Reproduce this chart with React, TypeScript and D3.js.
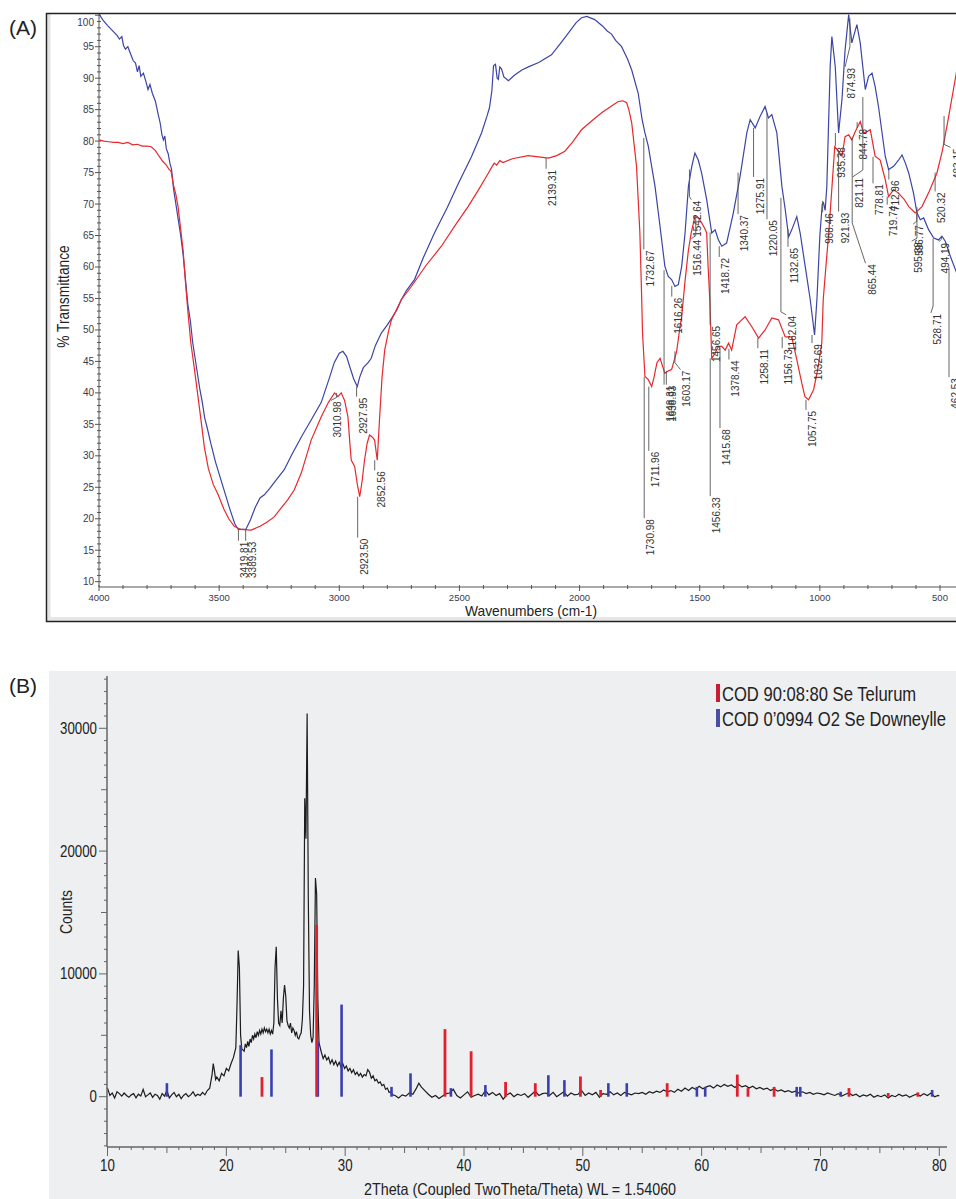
import React from 'react';
import * as d3 from 'd3';

// ---------- Panel A: FTIR ----------
const ftirBlue: [number, number][] = [
  [4000, 100.2], [3985, 99.3], [3965, 98.4], [3945, 97.6], [3925, 96.8], [3915, 96.2], [3905, 96.6], [3898, 95.2],
  [3890, 94.6], [3880, 95.0], [3870, 94.0], [3858, 92.8], [3848, 92.4], [3840, 91.0], [3833, 92.0], [3826, 90.3],
  [3815, 90.8], [3805, 89.5], [3796, 88.2], [3788, 89.0], [3778, 87.6], [3765, 86.3], [3755, 84.5], [3745, 82.8],
  [3738, 81.0], [3732, 80.2], [3726, 80.8], [3720, 78.8], [3712, 78.0], [3705, 76.5], [3698, 75.5], [3690, 72.5],
  [3680, 70.0], [3670, 67.5], [3660, 65.0], [3650, 62.0], [3640, 58.0], [3630, 54.0], [3620, 51.5], [3610, 48.0],
  [3600, 45.5], [3590, 43.0], [3580, 40.5], [3570, 38.5], [3560, 36.0], [3550, 34.5], [3535, 32.0], [3515, 29.0],
  [3495, 26.5], [3475, 24.0], [3455, 21.5], [3435, 19.2], [3420, 18.3], [3400, 18.3], [3389, 18.3], [3370, 19.8],
  [3350, 21.8], [3330, 23.3], [3312, 23.8], [3290, 24.8], [3260, 26.3], [3229, 27.8], [3200, 30.0], [3158, 33.0],
  [3120, 35.5], [3075, 38.5], [3040, 42.5], [3021, 44.8], [3000, 46.3], [2985, 46.6], [2970, 45.8], [2955, 44.0],
  [2940, 42.2], [2925, 41.0], [2915, 42.5], [2900, 44.0], [2880, 44.8], [2867, 45.5], [2850, 47.5], [2825, 49.5],
  [2800, 50.8], [2783, 51.8], [2760, 53.2], [2742, 54.8], [2720, 56.3], [2687, 58.0], [2650, 61.5], [2604, 65.4],
  [2550, 69.5], [2504, 73.3], [2450, 77.5], [2408, 81.3], [2385, 84.0], [2375, 85.3], [2365, 88.0], [2358, 92.0],
  [2350, 92.2], [2343, 90.0], [2338, 89.8], [2332, 91.8], [2325, 91.5], [2315, 90.2], [2296, 89.6], [2270, 90.5],
  [2240, 91.3], [2213, 91.8], [2170, 92.5], [2117, 93.7], [2080, 95.5], [2046, 97.2], [2015, 98.8], [1992, 99.6],
  [1970, 99.8], [1950, 99.5], [1937, 99.3], [1905, 98.3], [1885, 97.5], [1867, 97.0], [1850, 96.0], [1825, 95.0],
  [1800, 93.0], [1783, 91.3], [1756, 87.6], [1740, 83.5], [1728, 81.3], [1714, 79.2], [1700, 76.0], [1686, 72.8],
  [1665, 66.4], [1645, 60.1], [1631, 58.5], [1617, 58.0], [1603, 56.9], [1589, 57.2], [1575, 60.1], [1561, 65.4],
  [1547, 72.8], [1533, 76.0], [1520, 78.1], [1506, 77.0], [1492, 74.9], [1471, 70.7], [1450, 65.4], [1436, 65.9],
  [1422, 64.3], [1408, 63.3], [1388, 63.8], [1360, 68.6], [1332, 74.4], [1304, 81.3], [1290, 83.4], [1269, 82.1],
  [1249, 83.9], [1228, 85.5], [1214, 83.7], [1200, 84.2], [1179, 81.3], [1158, 72.8], [1144, 69.1], [1130, 64.8],
  [1117, 65.9], [1096, 68.0], [1082, 65.4], [1061, 60.1], [1040, 54.8], [1022, 49.2], [1012, 55.0], [1000, 65.0],
  [990, 70.0], [985, 70.2], [978, 69.0], [971, 72.8], [957, 91.9], [950, 96.6], [936, 91.9], [922, 81.3],
  [908, 86.6], [895, 94.5], [880, 100.1], [867, 95.6], [846, 98.5], [832, 95.6], [811, 88.2], [797, 90.3],
  [783, 90.8], [770, 88.7], [756, 85.5], [728, 77.6], [714, 75.5], [693, 76.0], [672, 77.0], [658, 77.8],
  [644, 76.5], [630, 74.9], [610, 71.7], [596, 68.6], [582, 67.5], [568, 67.8], [547, 65.9], [526, 64.6],
  [506, 64.3], [492, 64.9], [478, 64.1], [457, 61.7], [425, 58.5],
];

const ftirRed: [number, number][] = [
  [4000, 80.2], [3980, 80.0], [3960, 79.9], [3940, 79.8], [3920, 79.8], [3900, 79.6], [3880, 79.8], [3860, 79.4],
  [3840, 79.5], [3820, 79.2], [3800, 79.2], [3783, 79.1], [3765, 78.5], [3750, 77.6], [3735, 76.8], [3720, 76.2],
  [3710, 75.6], [3700, 75.2], [3690, 73.0], [3680, 71.5], [3671, 69.6], [3660, 66.0], [3650, 62.7], [3640, 57.5],
  [3629, 52.5], [3618, 48.0], [3604, 44.1], [3590, 40.0], [3575, 35.5], [3562, 31.5], [3545, 28.0], [3525, 25.5],
  [3504, 23.8], [3480, 21.5], [3460, 20.0], [3437, 18.8], [3410, 18.3], [3367, 18.2], [3330, 18.8], [3300, 19.5],
  [3271, 20.3], [3240, 21.8], [3215, 23.0], [3187, 24.6], [3158, 27.3], [3117, 32.5], [3075, 36.2], [3045, 38.5],
  [3020, 40.0], [3006, 39.4], [2992, 40.0], [2978, 38.8], [2964, 36.2], [2955, 31.5], [2950, 29.3], [2936, 28.3],
  [2925, 25.5], [2915, 23.5], [2905, 26.0], [2895, 29.3], [2884, 32.0], [2874, 33.3], [2863, 33.0], [2853, 32.5],
  [2842, 29.3], [2832, 36.2], [2822, 42.5], [2811, 46.8], [2795, 49.8], [2783, 51.6], [2742, 54.8], [2700, 56.9],
  [2640, 60.2], [2575, 63.3], [2520, 66.5], [2464, 69.6], [2420, 72.3], [2380, 74.9], [2365, 75.9], [2355, 76.5],
  [2345, 76.2], [2332, 76.9], [2318, 76.6], [2280, 77.2], [2214, 77.7], [2170, 77.5], [2130, 77.3], [2095, 77.7],
  [2061, 78.4], [2030, 79.8], [1992, 81.8], [1950, 83.2], [1908, 84.5], [1870, 85.5], [1839, 86.3], [1820, 86.4],
  [1804, 86.1], [1795, 85.0], [1783, 82.9], [1763, 76.0], [1749, 65.4], [1742, 55.8], [1738, 49.5], [1728, 42.6],
  [1714, 42.1], [1700, 41.0], [1690, 42.5], [1678, 44.8], [1665, 45.5], [1655, 44.3], [1645, 43.1], [1630, 43.5],
  [1617, 43.7], [1605, 45.3], [1596, 46.6], [1582, 50.5], [1575, 52.1], [1561, 57.8], [1547, 62.7], [1535, 65.5],
  [1520, 68.0], [1506, 67.8], [1492, 67.0], [1480, 66.2], [1471, 65.4], [1465, 60.0], [1458, 54.8], [1450, 45.5],
  [1436, 46.3], [1422, 47.4], [1408, 47.4], [1394, 46.8], [1380, 47.9], [1367, 46.8], [1346, 50.8], [1325, 51.6],
  [1311, 52.1], [1283, 50.5], [1255, 48.7], [1228, 50.0], [1200, 51.9], [1172, 51.6], [1144, 48.9], [1117, 48.9],
  [1096, 45.3], [1075, 41.5], [1062, 39.4], [1047, 38.9], [1026, 40.5], [1010, 43.5], [992, 47.9], [986, 54.8],
  [975, 60.0], [963, 65.4], [950, 72.5], [938, 79.1], [922, 78.4], [908, 77.6], [895, 80.7], [880, 81.0],
  [867, 80.2], [853, 81.5], [832, 83.1], [818, 81.3], [804, 81.5], [790, 81.8], [770, 77.6], [749, 77.0],
  [728, 73.9], [714, 71.2], [693, 72.3], [672, 71.7], [650, 70.8], [630, 69.6], [603, 68.6], [575, 69.6],
  [545, 72.0], [513, 74.9], [490, 78.5], [464, 83.9], [445, 88.0], [425, 92.4],
];

const ftirPeakLabels = [
  { label: '3419.81', wn: 3419.81, t0: 18.3, t1: 16.5 },
  { label: '3389.53', wn: 3389.53, t0: 18.3, t1: 16.5 },
  { label: '3010.98', wn: 3010.98, t0: 40.0, t1: 38.8, lwn: 3035 },
  { label: '2927.95', wn: 2927.95, t0: 41.0, t1: 39.4 },
  { label: '2923.50', wn: 2923.5, t0: 23.5, t1: 17.0 },
  { label: '2852.56', wn: 2852.56, t0: 29.3, t1: 27.7 },
  { label: '2139.31', wn: 2139.31, t0: 77.3, t1: 75.6 },
  { label: '1732.67', wn: 1732.67, t0: 80.5, t1: 62.8 },
  { label: '1730.98', wn: 1730.98, t0: 42.5, t1: 20.1 },
  { label: '1711.96', wn: 1711.96, t0: 41.0, t1: 30.8 },
  { label: '1648.31', wn: 1648.31, t0: 59.5, t1: 41.3 },
  { label: '1638.93', wn: 1638.93, t0: 43.5, t1: 41.3 },
  { label: '1616.26', wn: 1616.26, t0: 57.0, t1: 55.3 },
  { label: '1603.17', wn: 1603.17, t0: 46.6, tm: 44.8, t1: 43.7, lwn: 1580 },
  { label: '1542.64', wn: 1542.64, t0: 75.5, t1: 70.7, lwn: 1535 },
  { label: '1516.44', wn: 1516.44, t0: 68.0, t1: 64.5, lwn: 1535 },
  { label: '1456.65', wn: 1456.65, t0: 65.5, t1: 50.8 },
  { label: '1456.33', wn: 1456.33, t0: 45.5, t1: 23.6 },
  { label: '1418.72', wn: 1418.72, t0: 63.3, t1: 61.6 },
  { label: '1415.68', wn: 1415.68, t0: 47.2, t1: 34.4 },
  { label: '1378.44', wn: 1378.44, t0: 47.0, t1: 45.3 },
  { label: '1340.37', wn: 1340.37, t0: 75.0, t1: 68.4 },
  { label: '1275.91', wn: 1275.91, t0: 82.1, t1: 74.3 },
  { label: '1258.11', wn: 1258.11, t0: 48.7, t1: 47.1 },
  { label: '1220.05', wn: 1220.05, t0: 84.5, t1: 67.6 },
  { label: '1162.04', wn: 1162.04, t0: 71.0, t1: 52.4, lwn: 1140 },
  { label: '1156.73', wn: 1156.73, t0: 48.9, t1: 47.1 },
  { label: '1132.65', wn: 1132.65, t0: 66.0, t1: 63.2 },
  { label: '1057.75', wn: 1057.75, t0: 38.9, t1: 37.3 },
  { label: '1032.69', wn: 1032.69, t0: 49.2, t1: 47.9 },
  { label: '988.46', wn: 988.46, t0: 70.5, t1: 68.7 },
  { label: '935.38', wn: 935.38, t0: 81.3, t1: 79.2 },
  { label: '921.93', wn: 921.93, t0: 78.5, t1: 68.8 },
  { label: '874.93', wn: 874.93, t0: 99.5, tm: 95.0, t1: 91.8, lwn: 895 },
  { label: '865.44', wn: 865.44, t0: 80.5, tm: 67.0, t1: 60.6, lwn: 810 },
  { label: '844.78', wn: 844.78, t0: 83.0, t1: 82.1 },
  { label: '821.11', wn: 821.11, t0: 87.0, tm: 75.4, t1: 74.3, lwn: 864 },
  { label: '778.81', wn: 778.81, t0: 77.5, t1: 73.3 },
  { label: '719.74', wn: 719.74, t0: 71.2, t1: 69.9 },
  { label: '712.96', wn: 712.96, t0: 75.5, t1: 73.9 },
  { label: '596.77', wn: 596.77, t0: 68.5, t1: 66.8, lwn: 612 },
  { label: '595.88', wn: 595.88, t0: 69.5, t1: 64.1, lwn: 618 },
  { label: '528.71', wn: 528.71, t0: 64.5, tm: 53.8, t1: 52.7, lwn: 538 },
  { label: '520.32', wn: 520.32, t0: 75.0, t1: 72.0 },
  { label: '494.19', wn: 494.19, t0: 64.8, t1: 64.0, lwn: 505 },
  { label: '483.15', wn: 483.15, t0: 84.0, t1: 79.0, lwn: 456 },
  { label: '462.53', wn: 462.53, t0: 60.0, t1: 42.5 },
];

const ftirYTickValues = [10, 15, 20, 25, 30, 35, 40, 45, 50, 55, 60, 65, 70, 75, 80, 85, 90, 95, 100];
const ftirXTickValues = [4000, 3500, 3000, 2500, 2000, 1500, 1000, 500];

// ---------- Panel B: XRD ----------
const xrdPattern: [number, number][] = [
  [10.0, 700], [10.2, 100], [10.4, 300], [10.6, -100], [10.8, 400], [11.0, 250], [11.2, 50], [11.4, 300],
  [11.6, 100], [11.8, -50], [12.0, 150], [12.2, 250], [12.4, -100], [12.6, 200], [12.8, 50], [13.0, 600],
  [13.2, 0], [13.4, 150], [13.6, 300], [13.8, -50], [14.0, 200], [14.2, 100], [14.4, -200], [14.6, 250],
  [14.8, 50], [15.0, 500], [15.2, -100], [15.4, 150], [15.6, 350], [15.8, 0], [16.0, 200], [16.2, -150],
  [16.4, 100], [16.6, 250], [16.8, 0], [17.0, 150], [17.2, 400], [17.4, 50], [17.6, 200], [17.8, 100],
  [18.0, 350], [18.2, 150], [18.4, 500], [18.6, 700], [18.8, 1800], [18.9, 2700], [19.0, 2100], [19.1, 1400],
  [19.2, 1600], [19.4, 1300], [19.6, 1900], [19.8, 1700], [20.0, 2300], [20.2, 2100], [20.4, 2700], [20.6, 3200],
  [20.8, 4000], [20.9, 7500], [21.0, 11900], [21.1, 10500], [21.2, 5000], [21.3, 3900], [21.5, 3700], [21.6, 4300],
  [21.7, 4000], [21.8, 4500], [21.9, 4100], [22.0, 4700], [22.1, 4400], [22.2, 5000], [22.3, 4700], [22.4, 5100],
  [22.5, 4800], [22.6, 5300], [22.7, 5000], [22.8, 5400], [22.9, 5100], [23.0, 5500], [23.1, 5200], [23.2, 5600],
  [23.3, 5300], [23.4, 5500], [23.5, 5200], [23.6, 5500], [23.7, 5100], [23.8, 5400], [23.9, 5100], [24.0, 6000],
  [24.1, 10500], [24.2, 12200], [24.3, 8000], [24.4, 6000], [24.5, 5800], [24.6, 7000], [24.7, 6000], [24.8, 8000],
  [24.9, 9100], [25.0, 8200], [25.1, 6200], [25.2, 5800], [25.3, 5600], [25.4, 6000], [25.5, 5200], [25.6, 5600],
  [25.7, 5400], [25.8, 5000], [25.9, 5300], [26.0, 4800], [26.1, 4700], [26.2, 5000], [26.3, 5200], [26.4, 6300],
  [26.5, 9000], [26.6, 24300], [26.7, 21000], [26.8, 31200], [26.9, 16000], [27.0, 7000], [27.1, 5000], [27.2, 4400],
  [27.3, 4800], [27.4, 9000], [27.5, 17800], [27.6, 16500], [27.7, 8000], [27.8, 4400], [28.0, 3600], [28.15, 3100],
  [28.3, 3400], [28.45, 3000], [28.6, 3200], [28.75, 2700], [28.9, 3000], [29.05, 2600], [29.2, 2900], [29.35, 2500],
  [29.5, 2800], [29.65, 2400], [29.8, 2700], [29.95, 2300], [30.1, 2500], [30.25, 2100], [30.4, 2300], [30.55, 1950],
  [30.7, 2200], [30.85, 1800], [31.0, 2000], [31.15, 1700], [31.3, 1900], [31.45, 1600], [31.6, 1800], [31.75, 1700],
  [31.9, 2200], [32.05, 2000], [32.2, 1500], [32.35, 1700], [32.5, 1300], [32.65, 1400], [32.8, 1100], [32.95, 1200],
  [33.1, 900], [33.25, 1000], [33.4, 600], [33.55, 700], [33.7, 350], [33.85, 400], [34.0, 150], [34.2, 100],
  [34.5, -100], [34.8, 150], [35.1, 50], [35.4, 300], [35.7, 200], [36.0, 700], [36.2, 1100], [36.4, 800],
  [36.7, 500], [37.0, 200], [37.3, -50], [37.6, 100], [37.9, -150], [38.2, 50], [38.5, 250], [38.8, 300],
  [39.1, 600], [39.4, 100], [39.7, -100], [40.0, 150], [40.3, 400], [40.6, -50], [40.9, 100], [41.2, 200],
  [41.5, 50], [41.8, 500], [42.1, 150], [42.4, 350], [42.7, 100], [43.0, 250], [43.3, -200], [43.6, 150],
  [43.9, 300], [44.2, 0], [44.5, 200], [44.8, 100], [45.1, 250], [45.4, -50], [45.7, 200], [46.0, 450],
  [46.3, 100], [46.6, 250], [46.9, 300], [47.2, 100], [47.5, 350], [47.8, 0], [48.1, 200], [48.4, 400],
  [48.7, 50], [49.0, 300], [49.3, 150], [49.6, 200], [49.9, 500], [50.2, 100], [50.5, 300], [50.8, 150],
  [51.1, 350], [51.4, -50], [51.7, 250], [52.0, 200], [52.3, 400], [52.6, 150], [52.9, 300], [53.2, 100],
  [53.5, 350], [53.8, 250], [54.1, 150], [54.4, 300], [54.7, 250], [55.0, 350], [55.3, 200], [55.6, 400],
  [55.9, 300], [56.2, 450], [56.5, 350], [56.8, 550], [57.1, 400], [57.4, 500], [57.7, 350], [58.0, 600],
  [58.3, 450], [58.6, 700], [58.9, 500], [59.2, 750], [59.5, 600], [59.8, 850], [60.1, 650], [60.4, 800],
  [60.7, 900], [61.0, 700], [61.3, 950], [61.6, 800], [61.9, 1000], [62.2, 850], [62.5, 950], [62.8, 750],
  [63.1, 1000], [63.4, 800], [63.7, 900], [64.0, 700], [64.3, 850], [64.6, 650], [64.9, 750], [65.2, 600],
  [65.5, 700], [65.8, 500], [66.1, 650], [66.4, 450], [66.7, 550], [67.0, 400], [67.3, 500], [67.6, 350],
  [67.9, 450], [68.2, 300], [68.5, 400], [68.8, 250], [69.1, 350], [69.4, 200], [69.7, 300], [70.0, 250],
  [70.3, 150], [70.6, 300], [70.9, 200], [71.2, 100], [71.5, 250], [71.8, 50], [72.1, 200], [72.4, 300],
  [72.7, 100], [73.0, 200], [73.3, 0], [73.6, 150], [73.9, 50], [74.2, 200], [74.5, -50], [74.8, 100],
  [75.1, 0], [75.4, 150], [75.7, -100], [76.0, 100], [76.3, 0], [76.6, 200], [76.9, 50], [77.2, 150],
  [77.5, -50], [77.8, 100], [78.1, 200], [78.4, 50], [78.7, 250], [79.0, 100], [79.3, 300], [79.6, 0],
  [79.9, 100], [80.0, 50],
];

const telurumSticks: [number, number][] = [
  [23.0, 1600], [27.6, 14000], [38.4, 5500], [40.6, 3700], [43.5, 1200], [46.0, 1100], [49.8, 1650],
  [51.5, 550], [57.1, 1100], [63.0, 1800], [63.9, 700], [66.1, 800], [72.4, 700], [75.7, 300], [78.2, 350],
];
const downeyelleSticks: [number, number][] = [
  [15.0, 1100], [21.2, 4200], [23.8, 3850], [27.7, 4500], [29.7, 7500], [33.9, 800], [35.5, 1900],
  [38.9, 700], [41.8, 950], [47.1, 1750], [48.45, 1350], [52.15, 1100], [53.7, 1100], [59.6, 800],
  [60.3, 800], [68.0, 800], [68.3, 800], [71.7, 400], [79.4, 550],
];

const xrdXTickValues = [10, 20, 30, 40, 50, 60, 70, 80];
const xrdYTickValues = [0, 10000, 20000, 30000];
const xrdLegend = [
  { label: 'COD 90:08:80 Se Telurum', color: '#c81d34' },
  { label: 'COD 0\u20190994 O2 Se Downeylle', color: '#4a4fa6' },
];

const FONT = '"Liberation Sans", Arial, Helvetica, sans-serif';
const BLUE = '#3c44a6';
const RED = '#e8282c';

export default function App() {
  // Panel A scales
  const xA = d3.scaleLinear().domain([4000, 500]).range([99, 940]);
  const yA = d3.scaleLinear().domain([10, 95]).range([581.7, 46.7]);
  const lineA = d3.line<[number, number]>().x(d => xA(d[0])).y(d => yA(d[1]));

  // Panel B scales
  const xB = d3.scaleLinear().domain([10, 80]).range([107.5, 939.3]);
  const yB = d3.scaleLinear().domain([0, 30000]).range([1096.7, 728.3]);
  const lineB = d3.line<[number, number]>().x(d => xB(d[0])).y(d => yB(d[1]));

  const aMinorY = d3.range(10, 101, 1);
  const aMinorX = d3.range(4000, 399, -100);
  const bMinorY = d3.range(-4000, 34001, 1000);
  const bMinorX = d3.range(10, 80.5, 1);

  return (
    <svg width={956} height={1199} style={{ position: 'absolute', left: 0, top: 0, background: '#fff' }} fontFamily={FONT}>
      {/* ===== Panel A ===== */}
      <text x={9} y={35} fontSize={21} fill="#222">(A)</text>
      <rect x={47} y={14} width={1000} height={607} fill="#fff" />
      <rect x={47.5} y={14} width={3} height={607} fill="#e2e2e2" />
      <rect x={47} y={617} width={1000} height={4} fill="#e6e6e6" />
      <rect x={46.5} y={13.5} width={1000} height={608} fill="none" stroke="#222" strokeWidth={1.5} />

      {/* y axis */}
      <line x1={99} x2={99} y1={14} y2={587} stroke="#555" strokeWidth={1} />
      {aMinorY.map(v => (
        <line key={'ay' + v} x1={v % 5 === 0 ? 95 : 97} x2={101} y1={yA(v)} y2={yA(v)} stroke="#555" strokeWidth={1} />
      ))}
      {ftirYTickValues.map(v => (
        <text key={'ayl' + v} x={94} y={v === 100 ? 22 : yA(v)} dy="0.35em" textAnchor="end" fontSize={10} fill="#3a3a4e">{v}</text>
      ))}
      {/* x axis */}
      <line x1={99} x2={960} y1={587} y2={587} stroke="#555" strokeWidth={1} />
      {aMinorX.map(v => (
        <line key={'ax' + v} x1={xA(v)} x2={xA(v)} y1={585} y2={v % 500 === 0 ? 591 : 589} stroke="#555" strokeWidth={1} />
      ))}
      {ftirXTickValues.map(v => (
        <text key={'axl' + v} x={xA(v)} y={600.5} textAnchor="middle" fontSize={9.5} fill="#3a3a4e">{v}</text>
      ))}
      <text transform="translate(531,616) scale(0.92,1)" textAnchor="middle" fontSize={15} fill="#222">Wavenumbers (cm-1)</text>
      <text transform="translate(68.5,296.5) rotate(-90) scale(0.81,1)" textAnchor="middle" fontSize={17} fill="#222">% Transmittance</text>

      {/* curves */}
      <path d={lineA(ftirBlue) || ''} fill="none" stroke={BLUE} strokeWidth={1.2} />
      <path d={lineA(ftirRed) || ''} fill="none" stroke={RED} strokeWidth={1.2} />

      {/* peak labels */}
      {ftirPeakLabels.map((p, i) => {
        const x0 = xA(p.wn);
        const lx = xA(p.lwn ?? p.wn);
        const y0 = yA(p.t0);
        const y1 = yA(p.t1);
        const ym = p.tm !== undefined ? yA(p.tm) : (p.lwn !== undefined ? y1 - Math.min(3, (y1 - y0) / 2) : y1);
        const pts = `${x0},${y0} ${x0},${ym} ${lx},${y1}`;
        return (
          <g key={'pk' + i}>
            <polyline points={pts} fill="none" stroke="#555" strokeWidth={0.9} />
            <text transform={`translate(${lx + 10},${y1 + 1}) rotate(-90)`} textAnchor="end" fontSize={10} fill="#333">{p.label}</text>
          </g>
        );
      })}

      {/* ===== Panel B ===== */}
      <rect x={49} y={671} width={907} height={528} fill="#eeeff1" />
      <text x={9} y={693} fontSize={21} fill="#222">(B)</text>

      {/* data */}
      <path d={lineB(xrdPattern) || ''} fill="none" stroke="#1c1c1c" strokeWidth={1.2} />
      {downeyelleSticks.map((s, i) => (
        <line key={'bs' + i} x1={xB(s[0])} x2={xB(s[0])} y1={yB(0)} y2={yB(s[1])} stroke="#3a3fb0" strokeWidth={2.6} />
      ))}
      {telurumSticks.map((s, i) => (
        <line key={'rs' + i} x1={xB(s[0])} x2={xB(s[0])} y1={yB(0)} y2={yB(s[1])} stroke="#e0202e" strokeWidth={2.8} />
      ))}

      {/* axes */}
      <line x1={107} x2={107} y1={676} y2={1147} stroke="#666" strokeWidth={1.5} />
      {bMinorY.map(v => (
        <line key={'by' + v} x1={v % 10000 === 0 ? 99 : v % 5000 === 0 ? 101 : 104} x2={107} y1={yB(v)} y2={yB(v)} stroke="#666" strokeWidth={1} />
      ))}
      {xrdYTickValues.map(v => (
        <text key={'byl' + v} transform={`translate(97,${yB(v) + 5.5}) scale(0.83,1)`} textAnchor="end" fontSize={16} fill="#222">{v}</text>
      ))}
      <line x1={107} x2={947} y1={1147} y2={1147} stroke="#666" strokeWidth={1.5} />
      {bMinorX.map(v => (
        <line key={'bx' + v} x1={xB(v)} x2={xB(v)} y1={1147} y2={v % 10 === 0 ? 1156 : v % 5 === 0 ? 1153 : 1150} stroke="#666" strokeWidth={1} />
      ))}
      {xrdXTickValues.map(v => (
        <text key={'bxl' + v} transform={`translate(${xB(v)},1171) scale(0.83,1)`} textAnchor="middle" fontSize={16} fill="#222">{v}</text>
      ))}
      <text transform="translate(520,1195) scale(0.87,1)" textAnchor="middle" fontSize={16.5} fill="#222">2Theta (Coupled TwoTheta/Theta) WL = 1.54060</text>
      <text transform="translate(72,912) rotate(-90) scale(0.87,1)" textAnchor="middle" fontSize={16} fill="#222">Counts</text>

      {/* legend */}
      {xrdLegend.map((l, i) => (
        <g key={'lg' + i}>
          <rect x={716} y={684 + i * 25} width={4} height={18} fill={l.color} />
          <text transform={`translate(722,${700.5 + i * 25}) scale(0.83,1)`} fontSize={20} fill="#222">{l.label}</text>
        </g>
      ))}
    </svg>
  );
}
